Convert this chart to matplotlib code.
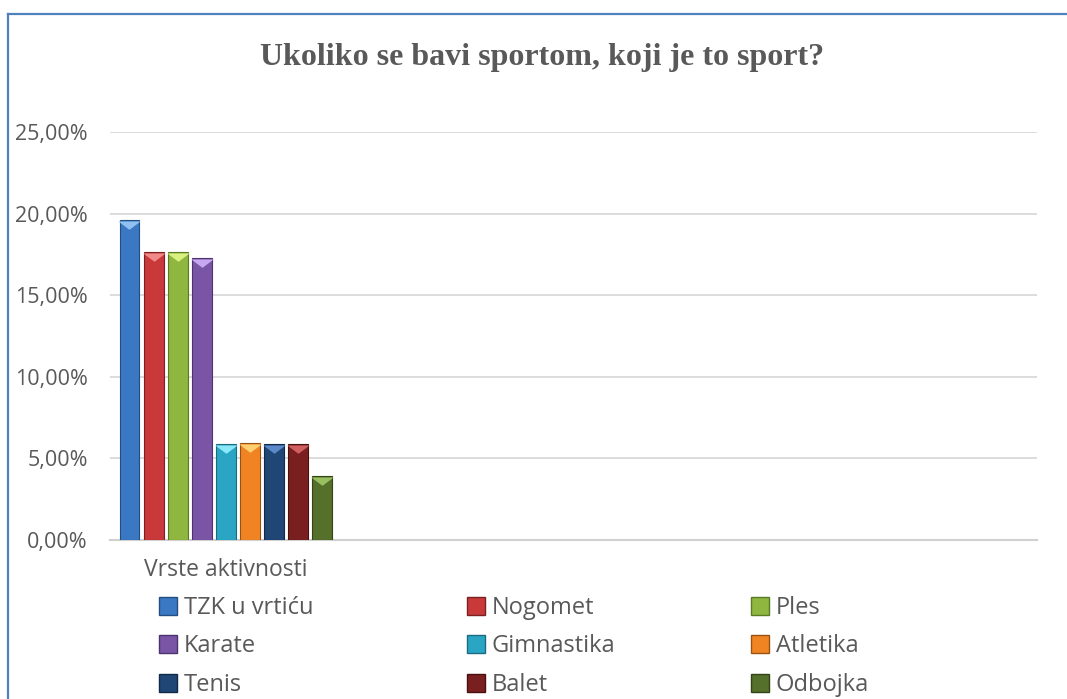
import matplotlib.pyplot as plt
from matplotlib.lines import Line2D
from matplotlib.ticker import FuncFormatter

# data
sports = ['TZK u vrtiću', 'Nogomet', 'Ples', 'Karate', 'Gimnastika',
          'Atletika', 'Tenis', 'Balet', 'Odbojka']
values = [0.196, 0.1765, 0.1765, 0.173, 0.0588, 0.0595, 0.0588, 0.0588, 0.0392]
categories = ['Vrste aktivnosti', '', '', '']
colors = ['#3a78c3', '#c9393a', '#8fb63e', '#7a55a6', '#2aa6c4',
          '#f08423', '#1f4674', '#7a1f20', '#55702a']
tops = ['#8fc0f0', '#f08a8a', '#d8f080', '#c8a8f0', '#8ae8f8',
        '#fcd070', '#5a88c8', '#d06060', '#98c060']
edges = ['#244d80', '#7a2222', '#5a7a25', '#4c3370', '#1a6a80',
         '#9a5212', '#102a48', '#4a1010', '#334518']

title = 'Ukoliko se bavi sportom, koji je to sport?'
txt = '#595959'

W, H = 1067, 699
fig = plt.figure(figsize=(W / 100, H / 100), dpi=100)
ax = fig.add_axes([110 / W, 1 - 540 / H, (1037 - 110) / W, (540 - 132) / H])

step = 0.104
bw = 0.086
n = len(sports)
chevron = [(-1, 0), (1, 0), (0, -0.75), (-1, 0)]
for i, (v, c) in enumerate(zip(values, colors)):
    x = (i - (n - 1) / 2) * step
    ax.bar(x, v, width=bw, color=c, edgecolor=edges[i], linewidth=0.8, zorder=3)
    # little bevel chevron on top
    ax.plot([x], [v - 0.0008], marker=chevron, markersize=16, color=tops[i],
            markeredgewidth=0, zorder=4)

ax.set_xlim(-0.5, len(categories) - 0.5)
ax.set_ylim(0, 0.25)
ax.set_yticks([0, 0.05, 0.10, 0.15, 0.20, 0.25])
ax.yaxis.set_major_formatter(FuncFormatter(lambda y, p: f'{y * 100:.2f}%'.replace('.', ',')))
ax.set_xticks(range(len(categories)))
ax.set_xticklabels(categories)
ax.tick_params(axis='y', length=0, colors=txt, labelsize=15.5, pad=16)
ax.tick_params(axis='x', length=0, colors=txt, labelsize=16.5, pad=13)
for lab in ax.get_xticklabels() + ax.get_yticklabels():
    lab.set_family('Open Sans')
ax.get_xticklabels()[0].set_x(-0.045)
ax.grid(axis='y', color='#d9d9d9', linewidth=1.3, zorder=0)
for s in ['top', 'right', 'left']:
    ax.spines[s].set_visible(False)
ax.spines['bottom'].set_color('#d0d0d0')
ax.spines['bottom'].set_linewidth(1.5)

fig.text(542 / W, 1 - 58 / H, title, ha='center', va='center',
         family='Liberation Serif', weight='bold', fontsize=23, color=txt)

# outer frame (top and left visible)
fig.add_artist(Line2D([8 / W, 1], [1 - 14 / H, 1 - 14 / H], transform=fig.transFigure,
                      color='#4f81bd', linewidth=1.6))
fig.add_artist(Line2D([8 / W, 8 / W], [0, 1 - 14 / H], transform=fig.transFigure,
                      color='#4f81bd', linewidth=1.6))

# legend in three columns
col_x = [147, 455, 739]
for col in range(3):
    idx = [col, col + 3, col + 6]
    handles = [Line2D([], [], linestyle='none', marker='s', markersize=12.5,
                      markerfacecolor=colors[k], markeredgecolor=edges[k]) for k in idx]
    leg = fig.legend(handles, [sports[k] for k in idx], loc='upper left',
                     bbox_to_anchor=(col_x[col] / W, 1 - 584 / H),
                     frameon=False, handlelength=0.8, handletextpad=0.25,
                     labelspacing=0.62, borderpad=0,
                     prop={'family': 'Open Sans', 'size': 17})
    for t in leg.get_texts():
        t.set_color(txt)

fig.savefig('out.png', dpi=100)
